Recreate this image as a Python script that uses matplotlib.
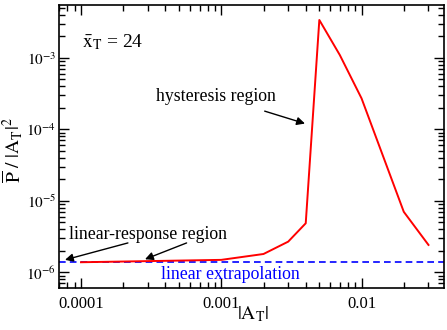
import numpy as np
import matplotlib
matplotlib.use('Agg')
import matplotlib.pyplot as plt
from matplotlib.ticker import LogLocator, FixedLocator, NullFormatter

plt.rcParams['font.family'] = ['Liberation Serif', 'DejaVu Serif']
plt.rcParams['mathtext.fontset'] = 'stix'

# data
amp = [0.0001, 0.001, 0.002, 0.003, 0.004, 0.005, 0.007, 0.01, 0.02, 0.03]
power = [1.38e-6, 1.49e-6, 1.80e-6, 2.68e-6, 4.84e-6, 3.37e-3, 1.09e-3,
         2.70e-4, 7.0e-6, 2.41e-6]
linear_level = 1.39e-6

xticks = [0.0001, 0.001, 0.01]
xlabels = ['0.0001', '0.001', '0.01']
yticks = [1e-6, 1e-5, 1e-4, 1e-3]
ylabels = [r'$10^{-6}$', r'$10^{-5}$', r'$10^{-4}$', r'$10^{-3}$']


def main():
    fig = plt.figure(figsize=(4.47, 3.30), dpi=100)
    ax = fig.add_axes([59 / 447, 1 - 287.5 / 330, (444 - 59) / 447, (287.5 - 5) / 330])

    ax.axhline(linear_level, color='blue', ls=(0, (4, 2.5)), lw=1.2)
    ax.plot(amp, power, color='red', lw=1.4)

    ax.set_xscale('log')
    ax.set_yscale('log')
    ax.set_xlim(6.97e-5, 0.0387)
    ax.set_ylim(6.12e-7, 5.46e-3)

    ax.xaxis.set_major_locator(FixedLocator(xticks))
    ax.set_xticklabels(xlabels)
    ax.xaxis.set_minor_locator(LogLocator(base=10, subs=np.arange(2, 10)))
    ax.xaxis.set_minor_formatter(NullFormatter())
    ax.yaxis.set_major_locator(FixedLocator(yticks))
    ax.set_yticklabels(ylabels)
    ax.yaxis.set_minor_locator(LogLocator(base=10, subs=np.arange(2, 10)))
    ax.yaxis.set_minor_formatter(NullFormatter())

    ax.tick_params(which='both', direction='in', top=True, right=True, width=1.0)
    ax.tick_params(which='major', length=7)
    ax.tick_params(which='minor', length=4)
    ax.tick_params(axis='x', pad=6, labelsize=12)
    ax.tick_params(axis='y', pad=2, labelsize=11)
    for s in ax.spines.values():
        s.set_linewidth(1.2)

    fig.text(253 / 447, 1 - 314 / 330, r'$|\mathrm{A_T}|$', fontsize=14,
             ha='center', va='center')
    fig.text(13 / 447, 1 - 150 / 330, r'$\overline{\mathrm{P}}\ /\ |\mathrm{A_T}|^2$',
             fontsize=14, rotation=90, ha='center', va='center')

    ax.text(0.000101, 1.66e-3, r'$\bar{\mathrm{x}}_\mathrm{T}$ = 24', fontsize=14,
            va='center', ha='left')

    ax.annotate('hysteresis region', xy=(0.00395, 1.2e-4), xytext=(0.00092, 2.9e-4),
                fontsize=12.8, ha='center', va='center',
                arrowprops=dict(arrowstyle='-|>', color='black', lw=1.0,
                                shrinkA=9, shrinkB=0, mutation_scale=12))

    ax.text(0.000298, 3.33e-6, 'linear-response region', fontsize=12.8,
            ha='center', va='center')
    ax.annotate('', xy=(7.69e-5, 1.49e-6), xytext=(0.000216, 2.57e-6),
                arrowprops=dict(arrowstyle='-|>', color='black', lw=1.0,
                                shrinkA=0, shrinkB=0, mutation_scale=12))
    ax.annotate('', xy=(0.000286, 1.52e-6), xytext=(0.000566, 2.57e-6),
                arrowprops=dict(arrowstyle='-|>', color='black', lw=1.0,
                                shrinkA=0, shrinkB=0, mutation_scale=12))

    ax.text(0.00117, 9.17e-7, 'linear extrapolation', fontsize=12.8, color='blue',
            ha='center', va='center')

    fig.savefig('out.png', dpi=100)
    plt.close(fig)


if __name__ == '__main__':
    main()
